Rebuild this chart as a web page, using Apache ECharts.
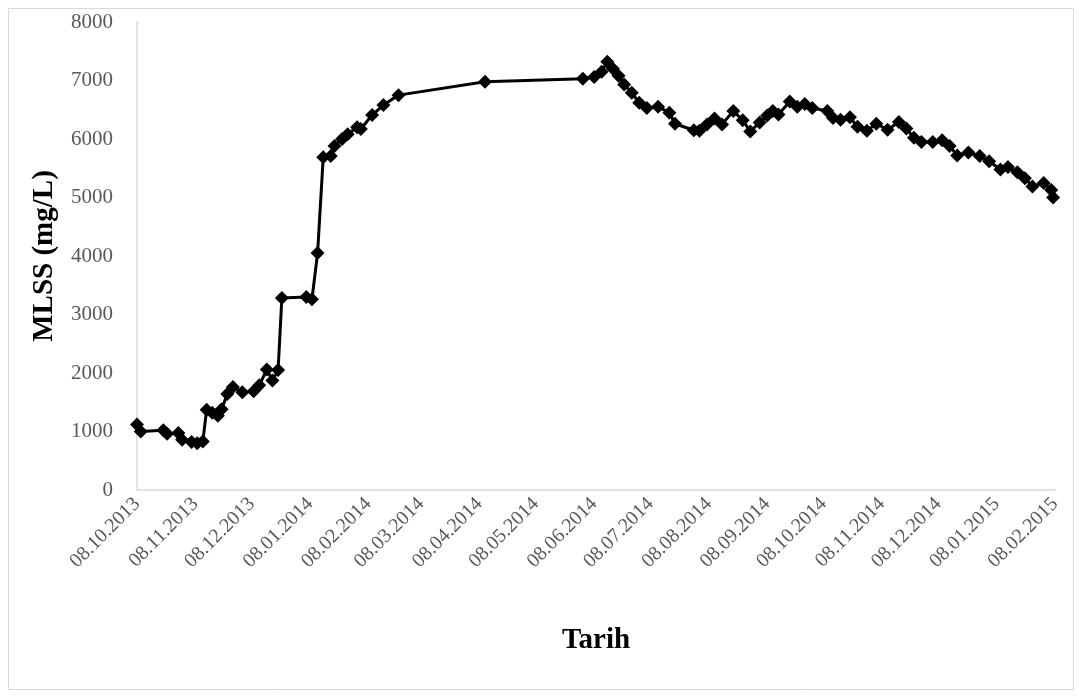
<!DOCTYPE html>
<html>
<head>
<meta charset="utf-8">
<script src="https://cdn.jsdelivr.net/npm/echarts@6/dist/echarts.min.js"></script>
<style>
  html, body { margin: 0; padding: 0; background: #fff; }
  #chart { width: 1079px; height: 697px; }
</style>
</head>
<body>
<div id="chart"></div>
<script>
// sample dates and MLSS values
var dates = [
  '2013-10-08','2013-10-10','2013-10-22','2013-10-24','2013-10-30','2013-11-01','2013-11-06','2013-11-09',
  '2013-11-12','2013-11-14','2013-11-17','2013-11-20','2013-11-22','2013-11-25','2013-11-28','2013-12-03',
  '2013-12-09','2013-12-12','2013-12-16','2013-12-19','2013-12-22','2013-12-24','2014-01-06','2014-01-09',
  '2014-01-12','2014-01-15','2014-01-19','2014-01-21','2014-01-25','2014-01-28','2014-02-02','2014-02-04',
  '2014-02-10','2014-02-16','2014-02-24','2014-04-11','2014-06-02','2014-06-08','2014-06-12','2014-06-15',
  '2014-06-18','2014-06-21','2014-06-24','2014-06-28','2014-07-02','2014-07-06','2014-07-12','2014-07-18',
  '2014-07-21','2014-07-31','2014-08-03','2014-08-07','2014-08-11','2014-08-15','2014-08-21','2014-08-26',
  '2014-08-30','2014-09-04','2014-09-08','2014-09-11','2014-09-14','2014-09-20','2014-09-24','2014-09-28',
  '2014-10-02','2014-10-10','2014-10-13','2014-10-17','2014-10-22','2014-10-26','2014-10-31','2014-11-05',
  '2014-11-11','2014-11-17','2014-11-21','2014-11-25','2014-11-29','2014-12-05','2014-12-10','2014-12-14',
  '2014-12-18','2014-12-24','2014-12-30','2015-01-04','2015-01-10','2015-01-14','2015-01-19','2015-01-23',
  '2015-01-27','2015-02-02','2015-02-06','2015-02-07'
];
var mlss = [
  1120, 1000, 1020, 960, 975, 860, 820, 800,
  830, 1370, 1320, 1270, 1380, 1640, 1760, 1670,
  1690, 1790, 2060, 1870, 2050, 3280, 3300, 3260,
  4050, 5690, 5710, 5880, 6000, 6080, 6200, 6170,
  6410, 6580, 6750, 6980, 7030, 7060, 7150, 7320,
  7200, 7080, 6930, 6790, 6620, 6530, 6550, 6450,
  6260, 6150, 6140, 6250, 6350, 6250, 6480, 6320,
  6130, 6280, 6400, 6480, 6420, 6640, 6550, 6600,
  6530, 6480, 6360, 6330, 6370, 6210, 6140, 6260,
  6160, 6290, 6180, 6020, 5950, 5950, 5980, 5880,
  5720, 5770, 5710, 5620, 5480, 5520, 5430, 5330,
  5190, 5250, 5130, 5000
];
var tickLabels = [
  '08.10.2013','08.11.2013','08.12.2013','08.01.2014','08.02.2014','08.03.2014','08.04.2014','08.05.2014',
  '08.06.2014','08.07.2014','08.08.2014','08.09.2014','08.10.2014','08.11.2014','08.12.2014','08.01.2015','08.02.2015'
];

function parseYMD(s) {
  var p = s.split('-');
  return new Date(+p[0], +p[1] - 1, +p[2]).getTime();
}
function parseDMY(s) {
  var p = s.split('.');
  return new Date(+p[2], +p[1] - 1, +p[0]).getTime();
}
function pad(n) { return n < 10 ? '0' + n : '' + n; }

var tickValues = tickLabels.map(parseDMY);
var points = dates.map(function (d, i) { return [parseYMD(d), mlss[i]]; });

var myChart = echarts.init(document.getElementById('chart'));
var option = {
  animation: false,
  backgroundColor: '#fff',
  graphic: [{
    type: 'rect',
    shape: { x: 8.5, y: 8.5, width: 1065, height: 681 },
    style: { fill: 'none', stroke: '#d9d9d9', lineWidth: 1 },
    silent: true
  }],
  grid: { left: 137, right: 24, top: 22, bottom: 207 },
  xAxis: {
    type: 'value',
    min: tickValues[0],
    max: tickValues[tickValues.length - 1],
    name: 'Tarih',
    nameLocation: 'middle',
    nameGap: 136,
    nameTextStyle: { fontFamily: 'Liberation Serif', fontWeight: 'bold', fontSize: 29, color: '#000' },
    axisLine: { lineStyle: { color: '#d9d9d9', width: 1.5 } },
    axisTick: { show: false },
    splitLine: { show: false },
    axisLabel: {
      customValues: tickValues,
      rotate: 45,
      margin: 11,
      color: '#595959',
      fontFamily: 'Liberation Serif',
      fontSize: 20,
      formatter: function (val) {
        var d = new Date(val);
        return pad(d.getDate()) + '.' + pad(d.getMonth() + 1) + '.' + d.getFullYear();
      }
    }
  },
  yAxis: {
    type: 'value',
    min: 0,
    max: 8000,
    interval: 1000,
    name: 'MLSS (mg/L)',
    nameLocation: 'middle',
    nameGap: 78,
    nameTextStyle: { fontFamily: 'Liberation Serif', fontWeight: 'bold', fontSize: 29, color: '#000' },
    axisLine: { show: true, lineStyle: { color: '#d9d9d9', width: 1.5 } },
    axisTick: { show: false },
    splitLine: { show: false },
    axisLabel: {
      margin: 24,
      color: '#595959',
      fontFamily: 'Liberation Serif',
      fontSize: 21,
      formatter: function (val) { return String(val); }
    }
  },
  series: [{
    type: 'line',
    data: points,
    symbol: 'diamond',
    symbolSize: 14,
    showAllSymbol: true,
    lineStyle: { color: '#000', width: 3 },
    itemStyle: { color: '#000' }
  }]
};
myChart.setOption(option);
</script>
</body>
</html>
